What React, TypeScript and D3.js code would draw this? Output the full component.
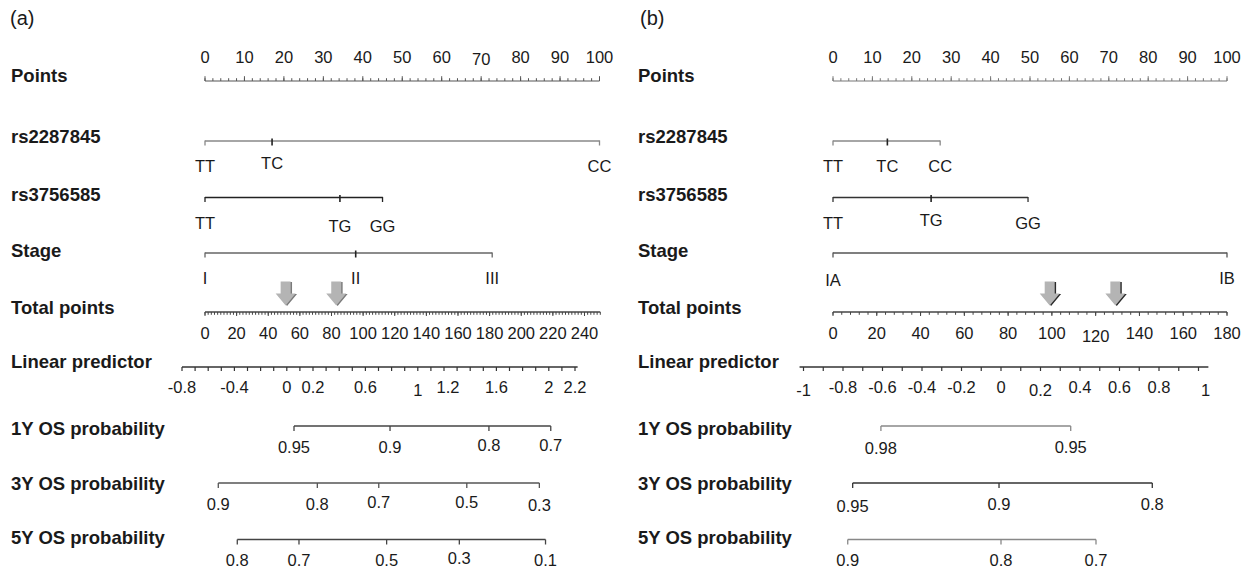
import React, { useEffect, useRef } from 'react';
import * as d3 from 'd3';

// ---------- shared ----------
const rowLabels = [
  'Points', 'rs2287845', 'rs3756585', 'Stage', 'Total points',
  'Linear predictor', '1Y OS probability', '3Y OS probability', '5Y OS probability',
];
const pointsTickLabels = [0, 10, 20, 30, 40, 50, 60, 70, 80, 90, 100];

// ---------- panel (a) ----------
const aSnp1Levels = ['TT', 'TC', 'CC'];
const aSnp1Points = [0, 17, 100];
const aSnp2Levels = ['TT', 'TG', 'GG'];
const aSnp2Points = [0, 34.2, 45];
const aStageLevels = ['I', 'II', 'III'];
const aStagePoints = [0, 38.2, 72.8];
const aTotalLabels = [0, 20, 40, 60, 80, 100, 120, 140, 160, 180, 200, 220, 240];
const aTotalMax = 250;
const aLpLabels = [-0.8, -0.4, 0, 0.2, 0.6, 1, 1.2, 1.6, 2, 2.2];
const aLpExtent = [-0.8, 2.22];
const aOs1Probs = [0.95, 0.9, 0.8, 0.7];
const aOs1Lp = [0.055, 0.788, 1.543, 2.015];
const aOs3Probs = [0.9, 0.8, 0.7, 0.5, 0.3];
const aOs3Lp = [-0.523, 0.233, 0.702, 1.374, 1.928];
const aOs5Probs = [0.8, 0.7, 0.5, 0.3, 0.1];
const aOs5Lp = [-0.378, 0.093, 0.762, 1.317, 1.975];
const aArrows = [51, 83];

// ---------- panel (b) ----------
const bSnp1Levels = ['TT', 'TC', 'CC'];
const bSnp1Points = [0, 13.8, 27.2];
const bSnp2Levels = ['TT', 'TG', 'GG'];
const bSnp2Points = [0, 24.9, 49.5];
const bStageLevels = ['IA', 'IB'];
const bStagePoints = [0, 100];
const bTotalLabels = [0, 20, 40, 60, 80, 100, 120, 140, 160, 180];
const bTotalMax = 180;
const bLpLabels = [-1, -0.8, -0.6, -0.4, -0.2, 0, 0.2, 0.4, 0.6, 0.8, 1];
const bLpExtent = [-1.02, 1.05];
const bOs1Probs = [0.98, 0.95];
const bOs1Lp = [-0.608, 0.353];
const bOs3Probs = [0.95, 0.9, 0.8];
const bOs3Lp = [-0.751, -0.01, 0.766];
const bOs5Probs = [0.9, 0.8, 0.7];
const bOs5Lp = [-0.776, 0, 0.481];
const bArrows = [99, 129];

// ---------- layout ----------
const FONT = '"Liberation Sans", Arial, Helvetica, sans-serif';
const LINE_Y = { points: 81, snp1: 141, snp2: 197.5, stage: 253, total: 312, lp: 367, os1: 426, os3: 483, os5: 539.5 };
const LABEL_Y = [75, 136, 194, 250, 307, 361, 428, 483, 537];

// small vertical/horizontal offsets of single tick labels as in the source figure
const nudgeY: Record<string, number> = {
  'a-snp1-TC': -3, 'a-snp2-TG': 3, 'a-snp2-GG': 3, 'a-points-70': 2, 'a-lp-1': 3,
  'a-os1-0.8': -1.5, 'a-os1-0.7': -1.5, 'a-os3-0.7': -1.5, 'a-os3-0.5': -1.5, 'a-os3-0.3': 1.5,
  'a-os5-0.3': -2, 'b-snp2-TG': -3, 'b-total-120': 3, 'b-lp--1': 3, 'b-lp-0.2': 3, 'b-lp-1': 3,
  'b-os1-0.98': 1.5, 'b-os3-0.95': 2, 'b-stage-IA': 2,
};
const nudgeX: Record<string, number> = { 'b-lp-1': 7, 'a-lp-1.2': 4 };

const panels = [
  {
    key: 'a', title: '(a)', titleX: 10, labelX: 11,
    pointsRange: [205, 599.5], totalRange: [205, 600.3], lpDomain: [-0.8, 2.2], lpRange: [182, 575],
    totalLabels: aTotalLabels, totalMax: aTotalMax, totalMinor: 2,
    lpLabels: aLpLabels, lpExtent: aLpExtent, arrows: aArrows,
    axisColor: '#555', totalColor: '#444', lpColor: '#333', shadow: '#7a7a7a',
    cats: [
      { id: 'snp1', levels: aSnp1Levels, points: aSnp1Points, color: '#888' },
      { id: 'snp2', levels: aSnp2Levels, points: aSnp2Points, color: '#222' },
      { id: 'stage', levels: aStageLevels, points: aStagePoints, color: '#666' },
    ],
    probs: [
      { id: 'os1', probs: aOs1Probs, lp: aOs1Lp, color: '#444' },
      { id: 'os3', probs: aOs3Probs, lp: aOs3Lp, color: '#555' },
      { id: 'os5', probs: aOs5Probs, lp: aOs5Lp, color: '#444' },
    ],
  },
  {
    key: 'b', title: '(b)', titleX: 640, labelX: 638,
    pointsRange: [833, 1227], totalRange: [833, 1227], lpDomain: [-1, 1], lpRange: [803.5, 1198.5],
    totalLabels: bTotalLabels, totalMax: bTotalMax, totalMinor: 4,
    lpLabels: bLpLabels, lpExtent: bLpExtent, arrows: bArrows,
    axisColor: '#777', totalColor: '#444', lpColor: '#333', shadow: '#2a2a2a',
    cats: [
      { id: 'snp1', levels: bSnp1Levels, points: bSnp1Points, color: '#888' },
      { id: 'snp2', levels: bSnp2Levels, points: bSnp2Points, color: '#333' },
      { id: 'stage', levels: bStageLevels, points: bStagePoints, color: '#555' },
    ],
    probs: [
      { id: 'os1', probs: bOs1Probs, lp: bOs1Lp, color: '#888' },
      { id: 'os3', probs: bOs3Probs, lp: bOs3Lp, color: '#333' },
      { id: 'os5', probs: bOs5Probs, lp: bOs5Lp, color: '#888' },
    ],
  },
];

function drawPanel(svg: any, p: any) {
  const g = svg.append('g').attr('font-family', FONT).attr('fill', '#1a1a1a');
  const xPts = d3.scaleLinear().domain([0, 100]).range(p.pointsRange);
  const xTot = d3.scaleLinear().domain([0, p.totalMax]).range(p.totalRange);
  const xLp = d3.scaleLinear().domain(p.lpDomain).range(p.lpRange);

  const hline = (x1: number, x2: number, y: number, color: string, w = 1.4) =>
    g.append('line').attr('x1', x1).attr('x2', x2).attr('y1', y).attr('y2', y)
      .attr('stroke', color).attr('stroke-width', w);

  const ticks = (xs: number[], y1: number, y2: number, color: string, w = 1.2) =>
    g.append('g').selectAll('line').data(xs).enter().append('line')
      .attr('x1', (d: number) => d).attr('x2', (d: number) => d)
      .attr('y1', y1).attr('y2', y2).attr('stroke', color).attr('stroke-width', w);

  const tickText = (row: string, labels: any[], xs: number[], y: number) =>
    g.append('g').selectAll('text').data(labels).enter().append('text')
      .attr('x', (d: any, i: number) => xs[i] + (nudgeX[`${p.key}-${row}-${d}`] || 0))
      .attr('y', (d: any) => y + 6 + (nudgeY[`${p.key}-${row}-${d}`] || 0))
      .attr('text-anchor', 'middle').style('font-size', '16.5px').text((d: any) => String(d));

  // title and row labels
  g.append('text').attr('x', p.titleX).attr('y', 25).style('font-size', '20px').text(p.title);
  g.selectAll('text.rowlab').data(rowLabels).enter().append('text').attr('class', 'rowlab')
    .attr('x', p.labelX).attr('y', (d: string, i: number) => LABEL_Y[i] + 6.6)
    .attr('font-weight', 'bold').style('font-size', '18.5px').text((d: string) => d);

  // Points axis (ticks point up)
  const yP = LINE_Y.points;
  hline(xPts(0), xPts(100), yP, p.axisColor, 1.1);
  ticks(d3.range(0, 101, 2).map(d => xPts(d)), yP, yP - 2.8, p.axisColor, 1);
  ticks(pointsTickLabels.map(d => xPts(d)), yP, yP - 4.8, p.axisColor, 1);
  tickText('points', pointsTickLabels, pointsTickLabels.map(d => xPts(d)), yP - 24.5);

  // categorical predictors
  p.cats.forEach((c: any) => {
    const y = (LINE_Y as any)[c.id];
    const xs = c.points.map((d: number) => xPts(d));
    hline(xs[0], xs[xs.length - 1], y, c.color);
    ticks([xs[0], xs[xs.length - 1]], y - 0.6, y + 4.5, c.color, 1.3);
    if (xs.length > 2) ticks(xs.slice(1, -1), y - 2.5, y + 4.5, '#222', 1.6);
    tickText(c.id, c.levels, xs, y + 25);
  });

  // Total points
  const yT = LINE_Y.total;
  hline(xTot(0), xTot(p.totalMax), yT, p.totalColor, 1.3);
  ticks(d3.range(0, p.totalMax + 0.01, p.totalMinor).map(d => xTot(d)), yT, yT + 2.8, p.totalColor, 1);
  ticks(p.totalLabels.map((d: number) => xTot(d)), yT, yT + 4, p.totalColor, 1);
  tickText('total', p.totalLabels, p.totalLabels.map((d: number) => xTot(d)), yT + 20.5);

  // arrows on the total points axis
  const arrowPath = (x: number, tip: number) =>
    `M${x - 5},${tip - 24} L${x + 5},${tip - 24} L${x + 5},${tip - 12} L${x + 10},${tip - 12} ` +
    `L${x},${tip} L${x - 10},${tip - 12} L${x - 5},${tip - 12} Z`;
  p.arrows.forEach((v: number) => {
    const x = xTot(v);
    g.append('path').attr('d', arrowPath(x + 1.4, 306)).attr('fill', p.shadow);
    g.append('path').attr('d', arrowPath(x, 305.5)).attr('fill', '#b4b4b4');
  });

  // Linear predictor
  const yL = LINE_Y.lp;
  const lpTicks = d3.range(Math.ceil(p.lpExtent[0] * 10), Math.floor(p.lpExtent[1] * 10) + 1).map(d => d / 10);
  hline(xLp(p.lpExtent[0]), xLp(p.lpExtent[1]), yL, p.lpColor, 1.4);
  ticks(lpTicks.map(d => xLp(d)), yL, yL + 4, p.lpColor, 1.2);
  tickText('lp', p.lpLabels, p.lpLabels.map((d: number) => xLp(d)), yL + 19.5);

  // survival probability scales
  p.probs.forEach((r: any) => {
    const y = (LINE_Y as any)[r.id];
    const xs = r.lp.map((d: number) => xLp(d));
    hline(d3.min(xs) as number, d3.max(xs) as number, y, r.color, 1.4);
    ticks(xs, y, y + 5, r.color, 1.3);
    tickText(r.id, r.probs, xs, y + 20.5);
  });
}

export default function App() {
  const svgRef = useRef<SVGSVGElement>(null);

  useEffect(() => {
    const svg = d3.select(svgRef.current);
    svg.selectAll('*').remove();
    panels.forEach(p => drawPanel(svg, p));
  }, []);

  return (
    <svg ref={svgRef} width={1247} height={572}
      style={{ position: 'absolute', left: 0, top: 0, background: '#fff' }} />
  );
}
